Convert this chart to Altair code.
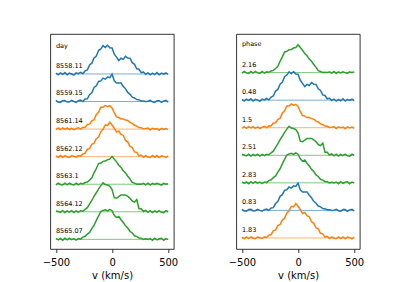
import altair as alt
import pandas as pd

# velocity grid (km/s), 20 km/s steps from -500 to 500
velocity = list(range(-500, 501, 20))

names = ["8558.11", "8559.15", "8561.14", "8562.12", "8563.1", "8564.12", "8565.07"]
phases = {"8558.11": "0.48", "8559.15": "0.83", "8561.14": "1.5", "8562.12": "1.83",
          "8563.1": "2.16", "8564.12": "2.51", "8565.07": "2.83"}
colors = {"8558.11": "#1f77b4", "8559.15": "#1f77b4", "8561.14": "#ff7f0e",
          "8562.12": "#ff7f0e", "8563.1": "#2ca02c", "8564.12": "#2ca02c",
          "8565.07": "#2ca02c"}

flux_8558_11 = [0.03, -0.03, 0.04, -0.01, 0.05, -0.03, 0.03, 0.00, -0.04, 0.04, 0.01,
                0.06, 0.01, 0.11, 0.15, 0.33, 0.39, 0.58, 0.65, 0.85, 0.91, 1.03, 0.96, 1.04, 0.95, 0.94,
                0.72, 0.61, 0.49, 0.57, 0.53, 0.64, 0.58, 0.57, 0.41, 0.35, 0.19, 0.17, 0.05, 0.07, -0.01,
                0.04, -0.03, 0.03, -0.02, 0.05, -0.03, 0.03, -0.01, 0.04, -0.02]
flux_8559_15 = [0.04, -0.02, -0.03, 0.03, 0.04, -0.02, -0.01, 0.04, 0.00, -0.03, 0.03,
                0.05, 0.00, 0.09, 0.10, 0.25, 0.32, 0.51, 0.57, 0.73, 0.75, 0.85, 0.81, 0.89, 0.87, 0.99,
                0.75, 0.67, 0.67, 0.67, 0.55, 0.46, 0.33, 0.26, 0.16, 0.13, 0.07, 0.06, 0.02, 0.02, 0.00,
                0.01, 0.04, -0.01, -0.03, 0.03, 0.03, -0.03, 0.02, 0.04, -0.02]
flux_8561_14 = [-0.02, 0.04, -0.02, 0.04, -0.01, 0.04, -0.02, 0.03, -0.03, 0.02, 0.05,
                0.00, 0.07, 0.06, 0.17, 0.18, 0.30, 0.34, 0.53, 0.61, 0.79, 0.79, 0.86, 0.81, 0.85, 0.77,
                0.59, 0.44, 0.42, 0.37, 0.37, 0.33, 0.31, 0.24, 0.21, 0.14, 0.11, 0.06, 0.05, 0.01, 0.02,
                0.04, -0.03, 0.03, 0.00, 0.02, -0.04, 0.03, -0.01, 0.02, -0.02]
flux_8562_12 = [0.03, -0.03, 0.04, -0.02, 0.04, -0.01, -0.03, 0.04, 0.01, -0.02, 0.04,
                0.02, 0.10, 0.12, 0.27, 0.29, 0.45, 0.49, 0.65, 0.71, 0.91, 0.99, 1.15, 1.13, 1.25, 1.15,
                1.03, 0.89, 0.93, 0.81, 0.77, 0.59, 0.53, 0.37, 0.33, 0.17, 0.15, 0.03, 0.06, -0.02, 0.04,
                -0.01, -0.03, 0.04, -0.02, 0.04, -0.03, 0.03, 0.01, -0.03, 0.03]
flux_8563_1 = [-0.02, 0.04, -0.01, -0.03, 0.04, -0.02, 0.04, -0.01, -0.03, 0.04, -0.02,
               0.03, 0.01, 0.06, 0.08, 0.15, 0.23, 0.41, 0.57, 0.75, 0.77, 0.83, 0.84, 0.89, 0.91, 1.01,
               0.91, 0.81, 0.69, 0.61, 0.49, 0.41, 0.29, 0.19, 0.07, 0.04, 0.00, 0.01, 0.00, 0.03, -0.02,
               0.04, -0.03, 0.03, -0.01, 0.03, 0.00, -0.03, 0.03, 0.00, 0.02]
flux_8564_12 = [0.03, 0.01, -0.02, 0.04, -0.03, 0.03, -0.01, 0.04, -0.03, 0.03, -0.01,
                0.04, 0.02, 0.09, 0.15, 0.29, 0.41, 0.57, 0.69, 0.83, 0.95, 1.05, 0.99, 0.97, 0.93, 0.81,
                0.51, 0.49, 0.55, 0.61, 0.61, 0.61, 0.56, 0.49, 0.39, 0.35, 0.44, 0.11, 0.11, 0.01, 0.05,
                -0.02, 0.04, -0.03, 0.03, -0.01, 0.04, -0.02, -0.03, 0.04, 0.00]
flux_8565_07 = [0.04, -0.02, 0.03, -0.03, 0.04, -0.02, 0.04, -0.01, 0.03, -0.03, 0.03,
                0.01, 0.08, 0.11, 0.19, 0.25, 0.39, 0.51, 0.69, 0.85, 1.01, 1.05, 1.07, 1.03, 1.09, 1.04,
                0.87, 0.79, 0.83, 0.71, 0.61, 0.49, 0.41, 0.29, 0.23, 0.13, 0.10, 0.05, 0.04, 0.00, 0.02,
                0.00, 0.03, -0.03, 0.04, -0.02, 0.02, 0.04, -0.03, 0.03, 0.00]

flux = {"8558.11": flux_8558_11, "8559.15": flux_8559_15, "8561.14": flux_8561_14,
        "8562.12": flux_8562_12, "8563.1": flux_8563_1, "8564.12": flux_8564_12,
        "8565.07": flux_8565_07}

order_day = ["8558.11", "8559.15", "8561.14", "8562.12", "8563.1", "8564.12", "8565.07"]
order_phase = ["8563.1", "8558.11", "8561.14", "8564.12", "8565.07", "8559.15", "8562.12"]

FONT = "DejaVu Sans"


def panel(order, label_of, header, ydom):
    rows, cont, labels = [], [], []
    n = len(order)
    for i, name in enumerate(order):
        off = n - 1 - i
        for v, f in zip(velocity, flux[name]):
            rows.append({"v": v, "y": f + off, "k": f"{i}", "c": colors[name]})
        cont.append({"v": -500, "y": off, "k": f"{i}", "c": colors[name]})
        cont.append({"v": 500, "y": off, "k": f"{i}", "c": colors[name]})
        labels.append({"v": -500, "y": off + 0.22, "t": label_of(name)})
    labels.append({"v": -500, "y": n - 1 + 0.96, "t": header})
    df = pd.DataFrame(rows)
    dc = pd.DataFrame(cont)
    dl = pd.DataFrame(labels)
    xsc = alt.Scale(domain=[-550, 550], nice=False)
    ysc = alt.Scale(domain=ydom, nice=False, zero=False)
    xax = alt.Axis(values=[-500, 0, 500], title="v (km/s)", grid=False, domain=False,
                   tickSize=3.5, tickColor="black", tickWidth=0.8, labelPadding=5,
                   labelFontSize=10, labelColor="black", labelFont=FONT,
                   titleFontSize=10, titleFont=FONT, titleColor="black",
                   titleFontWeight="normal", titlePadding=3)
    cl = alt.Chart(dc).mark_line(strokeWidth=1, opacity=0.6).encode(
        x=alt.X("v:Q", scale=xsc, axis=xax), y=alt.Y("y:Q", scale=ysc, axis=None),
        color=alt.Color("c:N", scale=None), detail="k:N")
    ln = alt.Chart(df).mark_line(strokeWidth=1.5).encode(
        x=alt.X("v:Q", scale=xsc, axis=xax), y=alt.Y("y:Q", scale=ysc, axis=None),
        color=alt.Color("c:N", scale=None), detail="k:N")
    tx = alt.Chart(dl).mark_text(align="left", baseline="alphabetic", fontSize=6.5,
                                 font=FONT, color="black").encode(
        x=alt.X("v:Q", scale=xsc), y=alt.Y("y:Q", scale=ysc), text="t:N")
    return alt.layer(cl, ln, tx).properties(width=123.5, height=215)


left = panel(order_day, lambda n: n, "day", [-0.35, 7.45])
right = panel(order_phase, lambda n: phases[n], "phase", [-0.40, 7.40])

chart = alt.hconcat(left, right, spacing=62, bounds="flush").properties(
    padding={"left": 33.3, "top": 25, "right": 5, "bottom": 5},
    background="white",
).configure_view(stroke="black", strokeWidth=0.8)

chart.save("out.html", embed_options={"renderer": "svg", "actions": False})
